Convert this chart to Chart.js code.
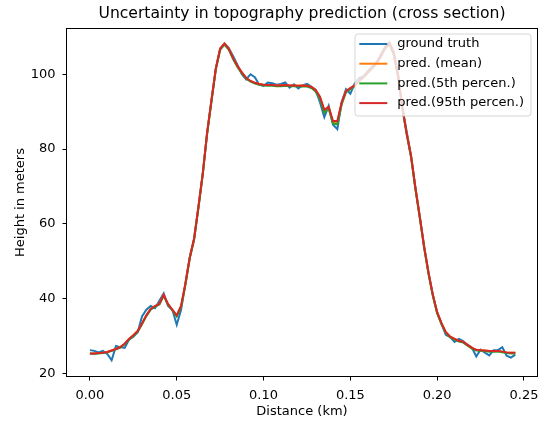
<!DOCTYPE html>
<html><head><meta charset="utf-8">
<script src="https://cdn.jsdelivr.net/npm/chart.js@4"></script>
<style>html,body{margin:0;padding:0;background:#fff}canvas{display:block}</style>
</head><body>
<canvas id="c" width="544" height="423"></canvas>
<script>
const distanceKm = [
0.0000,0.0025,0.0050,0.0075,0.0100,0.0125,0.0150,0.0175,0.0200,0.0225,
0.0250,0.0275,0.0300,0.0325,0.0350,0.0375,0.0400,0.0425,0.0450,0.0475,
0.0500,0.0525,0.0550,0.0575,0.0600,0.0625,0.0650,0.0675,0.0700,0.0725,
0.0750,0.0775,0.0800,0.0825,0.0850,0.0875,0.0900,0.0925,0.0950,0.0975,
0.1000,0.1025,0.1050,0.1075,0.1100,0.1125,0.1150,0.1175,0.1200,0.1225,
0.1250,0.1275,0.1300,0.1325,0.1350,0.1375,0.1400,0.1425,0.1450,0.1475,
0.1500,0.1525,0.1550,0.1575,0.1600,0.1625,0.1650,0.1675,0.1700,0.1725,
0.1750,0.1775,0.1800,0.1825,0.1850,0.1875,0.1900,0.1925,0.1950,0.1975,
0.2000,0.2025,0.2050,0.2075,0.2100,0.2125,0.2150,0.2175,0.2200,0.2225,
0.2250,0.2275,0.2300,0.2325,0.2350,0.2375,0.2400,0.2425,0.2450];

const groundTruth = [
26.2,26.0,25.6,26.0,25.2,23.5,27.3,27.0,26.8,29.0,
29.8,31.0,35.2,37.0,38.0,37.4,39.4,41.4,38.0,37.0,
33.0,37.0,44.0,51.0,56.0,64.5,73.5,84.3,93.0,101.5,
106.8,108.2,107.0,104.8,102.5,100.0,98.6,100.0,99.2,97.2,
96.9,97.8,97.6,97.2,97.4,97.8,96.4,97.3,96.2,97.0,
97.4,96.7,95.8,92.5,88.5,91.5,86.5,85.3,92.5,96.0,
94.8,97.5,99.0,99.5,100.8,102.0,103.2,105.2,107.3,108.5,
106.0,100.0,91.0,84.5,78.0,69.5,62.0,54.0,47.0,41.0,
36.3,33.2,30.3,29.7,28.4,29.2,28.6,27.6,26.9,24.5,
26.3,25.5,24.8,26.2,26.2,27.0,24.7,24.2,25.0];

const predMean = [
25.3,25.3,25.4,25.5,25.7,26.1,26.5,27.0,27.9,29.2,
30.2,31.3,33.3,35.5,37.2,38.0,38.6,41.0,38.5,37.0,
35.5,38.0,44.0,51.0,56.0,64.5,73.5,84.3,93.0,101.5,
106.8,108.2,106.8,104.3,102.2,100.5,99.0,98.2,97.7,97.4,
97.2,97.1,97.1,97.0,97.0,97.1,97.0,97.0,96.9,97.0,
96.9,96.6,95.8,93.8,90.2,91.2,87.2,87.2,92.3,95.5,
96.3,97.0,98.3,99.3,100.5,101.7,103.0,104.8,107.0,108.3,
105.5,99.5,91.0,84.0,78.0,69.5,61.8,53.8,46.9,41.0,
36.3,33.4,31.0,29.8,29.2,28.7,28.4,27.6,26.8,26.3,
26.2,26.1,26.0,26.0,26.0,25.8,25.6,25.5,25.5];

const pred5th = [
25.2,25.2,25.3,25.4,25.6,26.0,26.4,26.9,27.8,29.0,
30.0,31.1,33.1,35.3,37.0,37.8,38.4,40.7,38.3,36.8,
35.2,37.7,43.7,50.7,55.7,64.2,73.2,84.0,92.7,101.2,
106.5,107.9,106.5,104.0,101.9,100.2,98.8,98.0,97.5,97.2,
97.0,96.9,96.9,96.8,96.8,96.9,96.8,96.8,96.7,96.8,
96.7,96.3,95.4,93.4,89.7,90.8,86.8,86.6,91.9,95.2,
96.0,96.8,98.1,99.1,100.3,101.5,102.8,104.6,106.8,108.0,
105.2,99.2,90.7,83.7,77.7,69.2,61.5,53.5,46.6,40.7,
36.0,33.1,30.8,29.6,29.0,28.5,28.2,27.4,26.6,26.1,
26.0,25.9,25.8,25.8,25.8,25.6,25.4,25.3,25.3];

const pred95th = [
25.3,25.3,25.4,25.5,25.7,26.1,26.5,27.0,27.9,29.2,
30.2,31.3,33.3,35.5,37.2,38.0,38.6,41.0,38.5,37.0,
35.5,38.0,44.0,51.0,56.0,64.5,73.5,84.3,93.0,101.5,
106.8,108.2,106.8,104.3,102.2,100.5,99.0,98.2,97.7,97.4,
97.2,97.1,97.1,97.0,97.0,97.1,97.0,97.0,96.9,97.0,
96.9,96.6,95.8,94.0,90.5,91.3,87.5,87.5,92.5,95.5,
96.3,97.0,98.3,99.3,100.5,101.7,103.0,104.8,107.0,108.3,
105.5,99.5,91.0,84.0,78.0,69.5,61.8,53.8,46.9,41.0,
36.3,33.4,31.0,29.8,29.2,28.7,28.4,27.6,26.8,26.3,
26.2,26.1,26.0,26.0,26.0,25.8,25.6,25.5,25.5];

const xTicks = [0.00, 0.05, 0.10, 0.15, 0.20, 0.25];
const yTicks = [20, 40, 60, 80, 100];
const seriesLabels = ['ground truth', 'pred. (mean)', 'pred.(5th percen.)', 'pred.(95th percen.)'];
const seriesColors = ['#1f77b4', '#ff7f0e', '#2ca02c', '#d62728'];
const chartTitle = 'Uncertainty in topography prediction (cross section)';
const xTitle = 'Distance (km)';
const yTitle = 'Height in meters';

const toXY = arr => arr.map((v, i) => ({x: distanceKm[i], y: v}));
const seriesData = [groundTruth, predMean, pred5th, pred95th];

Chart.defaults.font.family = "'DejaVu Sans', sans-serif";
Chart.defaults.font.size = 13;
Chart.defaults.color = '#000';

const frameTitleLegend = {
  id: 'frameTitleLegend',
  afterDraw(chart) {
    const ctx = chart.ctx, a = chart.chartArea;
    ctx.save();
    // title centred over the plot area
    ctx.fillStyle = '#000';
    ctx.font = "15.6px 'DejaVu Sans'";
    ctx.textAlign = 'center';
    ctx.textBaseline = 'middle';
    ctx.fillText(chartTitle, (a.left + a.right) / 2, 14);
    // frame
    ctx.strokeStyle = '#000';
    ctx.lineWidth = 1;
    ctx.strokeRect(Math.round(a.left) - 0.5, Math.round(a.top) - 0.5,
                   Math.round(a.right - a.left) + 1, Math.round(a.bottom - a.top) + 1);
    // legend box
    const w = 176, h = 82;
    const x = a.right - 6 - w, y = a.top + 5, r = 3;
    ctx.beginPath();
    ctx.moveTo(x + r, y);
    ctx.lineTo(x + w - r, y); ctx.quadraticCurveTo(x + w, y, x + w, y + r);
    ctx.lineTo(x + w, y + h - r); ctx.quadraticCurveTo(x + w, y + h, x + w - r, y + h);
    ctx.lineTo(x + r, y + h); ctx.quadraticCurveTo(x, y + h, x, y + h - r);
    ctx.lineTo(x, y + r); ctx.quadraticCurveTo(x, y, x + r, y);
    ctx.closePath();
    ctx.fillStyle = 'rgba(255,255,255,0.8)';
    ctx.fill();
    ctx.strokeStyle = 'rgba(204,204,204,0.8)';
    ctx.stroke();
    ctx.font = "13px 'DejaVu Sans'";
    ctx.textBaseline = 'middle';
    ctx.textAlign = 'left';
    chart.data.datasets.forEach((ds, i) => {
      const ry = y + 10 + i * 19.7;
      ctx.beginPath();
      ctx.strokeStyle = ds.borderColor;
      ctx.lineWidth = 2;
      ctx.moveTo(x + 4.3, ry); ctx.lineTo(x + 32.3, ry);
      ctx.stroke();
      ctx.fillStyle = '#000';
      ctx.fillText(ds.label, x + 42.3, ry);
    });
    ctx.restore();
  }
};

new Chart(document.getElementById('c'), {
  type: 'line',
  data: {
    datasets: seriesData.map((arr, i) => ({
      label: seriesLabels[i],
      data: toXY(arr),
      borderColor: seriesColors[i],
      backgroundColor: seriesColors[i],
      borderWidth: 2,
      pointRadius: 0,
      tension: 0,
      fill: false,
      order: 4 - i
    }))
  },
  options: {
    responsive: false,
    animation: false,
    devicePixelRatio: 1,
    layout: {padding: {top: 29, right: 7, bottom: 0, left: 0}},
    plugins: {
      legend: {display: false},
      tooltip: {enabled: false},
      title: {display: false}
    },
    scales: {
      x: {
        type: 'linear', min: -0.0132, max: 0.2575,
        afterBuildTicks: s => { s.ticks = xTicks.map(v => ({value: v})); },
        afterFit: s => { s.height = 47; s.paddingLeft = 0; s.paddingRight = 0; },
        ticks: {callback: v => v.toFixed(2), padding: 7, maxRotation: 0, autoSkip: false, color: '#000'},
        grid: {display: true, drawOnChartArea: false, drawTicks: true, tickLength: 4.5, color: '#000', lineWidth: 1},
        border: {display: false},
        title: {display: true, text: xTitle, color: '#000', padding: {top: 0, bottom: 4}}
      },
      y: {
        type: 'linear', min: 19.28, max: 112.1,
        afterBuildTicks: s => { s.ticks = yTicks.map(v => ({value: v})); },
        afterFit: s => { s.width = 67; s.paddingTop = 0; s.paddingBottom = 0; },
        ticks: {padding: 7, color: '#000'},
        grid: {display: true, drawOnChartArea: false, drawTicks: true, tickLength: 4.5, color: '#000', lineWidth: 1},
        border: {display: false},
        title: {display: true, text: yTitle, color: '#000', padding: {top: 13, bottom: 0}}
      }
    }
  },
  plugins: [frameTitleLegend]
});
</script>
</body></html>
